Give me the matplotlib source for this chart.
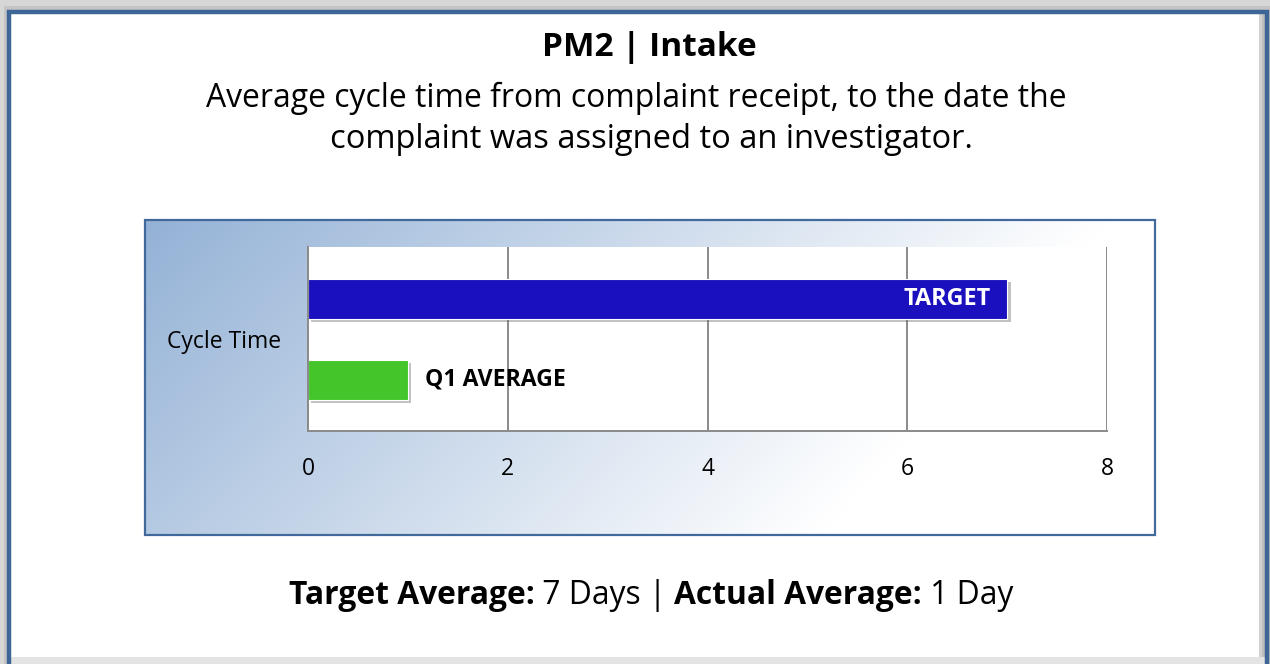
import matplotlib
matplotlib.use('Agg')
import matplotlib.pyplot as plt
import numpy as np
from matplotlib.patches import Rectangle
import matplotlib.patheffects as pe

# ---------------- data ----------------
categories = ['Cycle Time']
series_names = ['TARGET', 'Q1 AVERAGE']
series_values = [7, 1]
series_colors = ['#1a10be', '#44c62a']
x_ticks = [0, 2, 4, 6, 8]
title_text = 'PM2 | Intake'
subtitle_lines = ['Average cycle time from complaint receipt, to the date the',
                  'complaint was assigned to an investigator.']
summary_pieces = [('Target Average:', 'bold'), (' 7 Days | ', 'normal'),
                  ('Actual Average:', 'bold'), (' 1 Day', 'normal')]

FONT = ['Open Sans', 'DejaVu Sans']
W, H = 1270, 664
fig = plt.figure(figsize=(W / 100, H / 100), dpi=100)
fig.patch.set_facecolor('white')

# background axes in pixel coordinates
bg = fig.add_axes([0, 0, 1, 1])
bg.set_xlim(0, W)
bg.set_ylim(H, 0)
bg.axis('off')

# outer card + shadows + frame
bg.add_patch(Rectangle((0, 0), W, H, facecolor='#d6d6d6', edgecolor='none', zorder=0))
bg.add_patch(Rectangle((4, 6), W, H, facecolor='#c4c4c4', edgecolor='none', zorder=0.1))
bg.add_patch(Rectangle((9, 12), 1258, 645, facecolor='white', edgecolor='none', zorder=0.2))
bg.add_patch(Rectangle((1259, 14), 7, 643, facecolor='#d0d0d0', edgecolor='none', zorder=0.3))
bg.add_patch(Rectangle((1262, 14), 4, 643, facecolor='#bdbdbd', edgecolor='none', zorder=0.31))
bg.plot([9, 9, 1267, 1267], [H, 12, 12, H], color='#3e6597', lw=3.2, zorder=1,
        solid_joinstyle='miter')
bg.add_patch(Rectangle((9, 657), 1258, 7, facecolor='#e4e4e4', edgecolor='none', zorder=0.9))

# gradient panel
px0, px1, py0, py1 = 145, 1155, 220, 535
nx, ny = 400, 150
xx, yy = np.meshgrid(np.linspace(0, 1, nx), np.linspace(0, 1, ny))
t = np.clip(xx * 1.05 + yy * 0.3, 0, 1)
c0 = np.array([148, 178, 214]) / 255.0
img = c0[None, None, :] + (1 - c0)[None, None, :] * t[..., None]
bg.imshow(img, extent=[px0, px1, py1, py0], aspect='auto', zorder=2, interpolation='bilinear')
bg.add_patch(Rectangle((px0, py0), px1 - px0, py1 - py0, facecolor='none',
                       edgecolor='#41699b', lw=1.6, zorder=3))
bg.set_xlim(0, W)
bg.set_ylim(H, 0)

renderer = fig.canvas.get_renderer()


def fit_text(x, y, s, width_px, weight='normal', color='black', ha='center'):
    tt = bg.text(x, y, s, fontsize=20, fontfamily=FONT, fontweight=weight,
                 color=color, ha=ha, va='center', zorder=10)
    w = tt.get_window_extent(renderer).width
    tt.set_fontsize(20 * width_px / w)
    return tt


fit_text(649.5, 47, title_text, 215, weight='bold')
fit_text(636, 98, subtitle_lines[0], 858)
fit_text(651, 140, subtitle_lines[1], 642)

# summary line with mixed weights
tmp = []
for s, wgt in summary_pieces:
    tt = bg.text(0, 0, s, fontsize=20, fontfamily=FONT, fontweight=wgt)
    tmp.append(tt.get_window_extent(renderer).width)
    tt.remove()
total = sum(tmp)
scale = 724 / total
fs_sum = 20 * scale
xpos = 289
for (s, wgt), w in zip(summary_pieces, tmp):
    bg.text(xpos, 595, s, fontsize=fs_sum, fontfamily=FONT, fontweight=wgt,
            ha='left', va='center', zorder=10)
    xpos += w * scale

# ---------------- plot axes ----------------
ax = fig.add_axes([308 / W, 1 - 431 / H, (1107 - 308) / W, (431 - 247) / H])
ax.set_facecolor('white')
ax.set_zorder(5)
ax.set_xlim(x_ticks[0], x_ticks[-1])
ax.set_ylim(-0.5, 0.5)
offsets = [0.2185, -0.2215]
bh = 0.217
for name, val, col, off in zip(series_names, series_values, series_colors, offsets):
    ax.barh(off, val, height=bh, color=col, edgecolor='white', linewidth=0.8, zorder=3,
            path_effects=[pe.SimplePatchShadow(offset=(2.5, -2.5), shadow_rgbFace='#666666',
                                               alpha=0.4), pe.Normal()])

ax.set_xticks(x_ticks)
ax.set_xticklabels([str(v) for v in x_ticks], fontfamily=FONT, fontsize=16.5)
ax.set_yticks([0])
ax.set_yticklabels(categories, fontfamily=FONT, fontsize=16.5)
ax.tick_params(axis='both', length=0)
ax.tick_params(axis='x', pad=19)
ax.tick_params(axis='y', pad=19)
for v in x_ticks[1:]:
    ax.axvline(v, color='#8a8a8a', lw=1.4, zorder=1)
for sp in ['top', 'right']:
    ax.spines[sp].set_visible(False)
for sp in ['left', 'bottom']:
    ax.spines[sp].set_color('#8a8a8a')
    ax.spines[sp].set_linewidth(1.4)
    ax.spines[sp].set_zorder(4)

# data labels
ax.text(series_values[0] - 0.16, offsets[0], series_names[0], color='white', fontweight='bold',
        fontfamily=FONT, fontsize=16.8, ha='right', va='center', zorder=6)
ax.text(series_values[1] + 0.17, offsets[1], series_names[1], color='black', fontweight='bold',
        fontfamily=FONT, fontsize=16.6, ha='left', va='center', zorder=6)

fig.savefig('out.png', dpi=100)
